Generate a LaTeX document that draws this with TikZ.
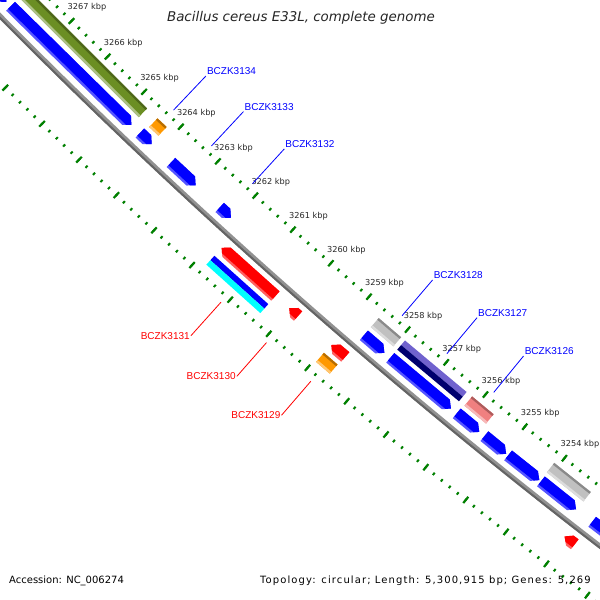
\documentclass[tikz,border=0pt]{standalone}
\usepackage{fontspec}
\setmainfont{DejaVu Sans}
\newfontfamily\genefont{Liberation Sans}

\definecolor{olivecog}{RGB}{107,142,35}
\definecolor{orangecog}{RGB}{255,153,0}
\definecolor{graycog}{RGB}{192,192,192}
\definecolor{pinkcog}{RGB}{240,128,128}
\definecolor{slatecog}{RGB}{112,98,206}
\definecolor{navycog}{RGB}{0,0,110}
\definecolor{cyancog}{RGB}{0,255,255}
\definecolor{tickgreen}{RGB}{0,128,0}
\definecolor{backbone}{RGB}{145,145,145}
\definecolor{backbonedark}{RGB}{100,100,100}

\tikzset{
  fwdmain/.style={fill=blue},
  fwdlight/.style={fill={rgb,255:red,85;green,85;blue,255}},
  revmain/.style={fill=red},
  revlight/.style={fill={rgb,255:red,255;green,95;blue,95}},
  minortick/.style={draw=tickgreen, line width=2pt},
  majortick/.style={draw=tickgreen, line width=2.2pt},
  kbplabel/.style={font=\fontsize{8.2}{9}\selectfont, text=black!85, inner sep=0pt, anchor=west},
  genelabel/.style={font=\genefont\fontsize{10}{12}\selectfont, inner sep=1pt},
}

\def\R{5940.8}
\def\hd{0.13}
% angle of a position (kbp) on the map
\def\kb#1{226.69+0.493*(3264-(#1))}
% forward gene: from #1 down to #2 kbp
\def\fwd#1#2{%
  \fill[fwdlight] ({\kb{#1}}:{\R-20.5}) -- ({\kb{#2+\hd}}:{\R-20.5}) -- ({\kb{#2}}:{\R-14.25}) -- ({\kb{#2+\hd}}:{\R-8}) -- ({\kb{#1}}:{\R-8}) -- cycle;
  \fill[fwdmain] ({\kb{#1}}:{\R-20.5}) -- ({\kb{#2+\hd}}:{\R-20.5}) -- ({\kb{#2}}:{\R-14.25}) -- ({\kb{#2+0.6*\hd}}:{\R-10.5}) -- ({\kb{#1}}:{\R-10.5}) -- cycle;}
% reverse gene: tip at #1, end at #2 kbp
\def\rev#1#2{%
  \fill[revlight] ({\kb{#2}}:{\R+8}) -- ({\kb{#1-\hd}}:{\R+8}) -- ({\kb{#1}}:{\R+14.25}) -- ({\kb{#1-\hd}}:{\R+20.5}) -- ({\kb{#2}}:{\R+20.5}) -- cycle;
  \fill[revmain] ({\kb{#2}}:{\R+8}) -- ({\kb{#1-\hd}}:{\R+8}) -- ({\kb{#1}}:{\R+14.25}) -- ({\kb{#1-0.6*\hd}}:{\R+18}) -- ({\kb{#2}}:{\R+18}) -- cycle;}
% COG band
\def\cog#1#2#3#4{%
  \fill[#3] ({\kb{#1}}:{#4}) -- ({\kb{#2}}:{#4}) -- ({\kb{#2}}:{#4+12}) -- ({\kb{#1}}:{#4+12}) -- cycle;
  \fill[#3!72!black] ({\kb{#1}}:{#4}) -- ({\kb{#2}}:{#4}) -- ({\kb{#2}}:{#4+2.2}) -- ({\kb{#1}}:{#4+2.2}) -- cycle;
  \fill[#3!55!white] ({\kb{#1}}:{#4+9.6}) -- ({\kb{#2}}:{#4+9.6}) -- ({\kb{#2}}:{#4+12}) -- ({\kb{#1}}:{#4+12}) -- cycle;}
% COG band with two classes
\def\cogtwo#1#2#3#4#5{%
  \fill[#3] ({\kb{#1}}:{#5}) -- ({\kb{#2}}:{#5}) -- ({\kb{#2}}:{#5+6}) -- ({\kb{#1}}:{#5+6}) -- cycle;
  \fill[#4] ({\kb{#1}}:{#5+6}) -- ({\kb{#2}}:{#5+6}) -- ({\kb{#2}}:{#5+12}) -- ({\kb{#1}}:{#5+12}) -- cycle;}
% gene labels
\def\fwdlabel#1#2{%
  \coordinate (p#2) at ({\kb{#1}}:{\R-54});
  \coordinate (q#2) at ({\kb{#1}}:{\R-101});
  \draw[blue, line width=0.8pt] (p#2) -- (q#2);
  \node[genelabel, text=blue, anchor=south west] (n#2) at (q#2) {BCZK#2};}
\def\revlabel#1#2{%
  \coordinate (p#2) at ({\kb{#1}}:{\R+55});
  \coordinate (q#2) at ({\kb{#1}}:{\R+100});
  \draw[red, line width=0.8pt] (p#2) -- (q#2);
  \node[genelabel, text=red, anchor=east] (n#2) at (q#2) {BCZK#2};}

\begin{document}
\begin{tikzpicture}[x=1pt,y=1pt]
	%%%%% START %%%%%
	\useasboundingbox (0,-600) rectangle (600,0);
	\clip (0,-600) rectangle (600,0);
	\fill[white] (0,-600) rectangle (600,0);

	\begin{scope}[shift={(4223.5,4161.7)}]
		% ticks
		\foreach \i in {0,...,95} {
			\draw[minortick] ({\kb{3251+0.2*\i}}:{\R-48.5}) -- ({\kb{3251+0.2*\i}}:{\R-45.5});
			\draw[minortick] ({\kb{3251+0.2*\i}}:{\R+45.5}) -- ({\kb{3251+0.2*\i}}:{\R+48.5});
		}
		\foreach \k in {3251,...,3270} {
			\draw[majortick] ({\kb{\k}}:{\R-51}) -- ({\kb{\k}}:{\R-43});
			\draw[majortick] ({\kb{\k}}:{\R+43}) -- ({\kb{\k}}:{\R+51});
		}
		\foreach \k in {3254,...,3267}
			\path ({\kb{\k}}:{\R-47}) node[kbplabel, xshift=-4pt, yshift=13.5pt] {\k\ kbp};

		% COG classes
		\cog{3270}{3264.73}{olivecog}{\R-37}
		\cog{3264.45}{3264.2}{orangecog}{\R-37}
		\cog{3258.58}{3258.0}{graycog}{\R-37}
		\cogtwo{3257.9}{3256.32}{slatecog}{navycog}{\R-37}
		\cog{3256.18}{3255.63}{pinkcog}{\R-37}
		\cog{3254.1}{3253.18}{graycog}{\R-37}
		\cogtwo{3261.8}{3260.39}{blue}{cyancog}{\R+25}
		\cog{3258.95}{3258.6}{orangecog}{\R+25}

		% forward genes
		\fwd{3271}{3268.17}
		\fwd{3268.05}{3264.73}
		\fwd{3264.5}{3264.18}
		\fwd{3263.66}{3263.0}
		\fwd{3262.36}{3262.06}
		\fwd{3258.58}{3258.05}
		\fwd{3257.9}{3256.35}
		\fwd{3256.2}{3255.63}
		\fwd{3255.5}{3254.95}
		\fwd{3254.9}{3254.12}
		\fwd{3254.08}{3253.2}
		\fwd{3252.8}{3251.3}

		% reverse genes
		\rev{3261.8}{3260.39}
		\rev{3260.03}{3259.8}
		\rev{3258.94}{3258.58}
		\rev{3253.05}{3252.8}

		% backbone
		\draw[backbone, line width=4.8pt] (223.5:\R) arc[start angle=223.5, end angle=234, radius=\R];
		\draw[backbonedark, line width=2pt] (223.5:{\R+1.4}) arc[start angle=223.5, end angle=234, radius={\R+1.4}];

		% labels
		\fwdlabel{3264.33}{3134}
		\fwdlabel{3263.3}{3133}
		\fwdlabel{3262.2}{3132}
		\fwdlabel{3258.26}{3128}
		\fwdlabel{3257.1}{3127}
		\fwdlabel{3255.9}{3126}
		\revlabel{3261.1}{3131}
		\revlabel{3259.92}{3130}
		\revlabel{3258.78}{3129}
	\end{scope}

	\node[font=\fontsize{13.4}{15}\selectfont\itshape, text=black!85] (title) at (301,-18) {Bacillus cereus E33L, complete genome};
	\node[font=\fontsize{10}{12}\selectfont, anchor=west, inner sep=0pt] (acc) at (9,-581) {Accession: NC\_006274};
	\node[font=\fontsize{10}{12}\selectfont\addfontfeature{LetterSpace=11}, anchor=east, inner sep=0pt] (topo) at (591,-581) {Topology: circular; Length: 5,300,915 bp; Genes: 5,269};
	%%%%% END %%%%%
\end{tikzpicture}
\end{document}
